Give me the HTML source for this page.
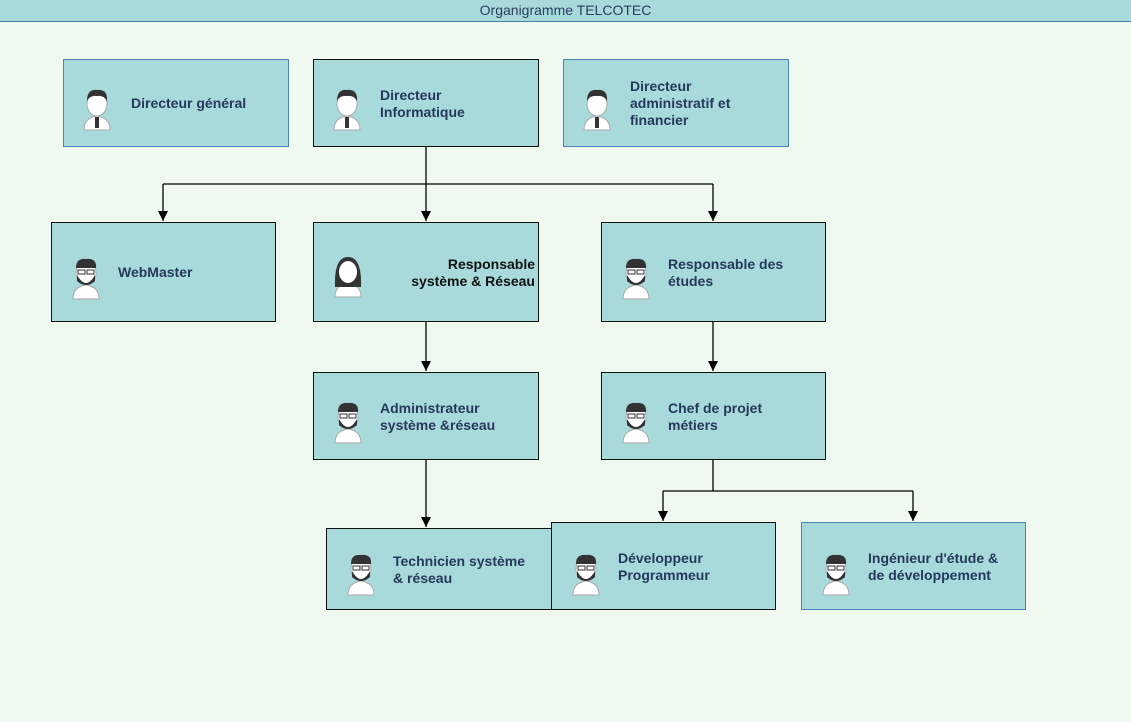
<!DOCTYPE html>
<html><head><meta charset="utf-8"><style>
body{margin:0;width:1131px;height:722px;background:#f0f9ef;position:relative;overflow:hidden;font-family:"Liberation Sans",sans-serif}
.hdr{position:absolute;left:0;top:0;width:1131px;height:21px;background:#a8d9db;border-bottom:1px solid #4a7fa8;text-align:center;font-size:14px;line-height:21px;color:#2b3e5c}
.b{position:absolute;background:#a8d9db;border:1px solid #111;box-sizing:border-box}
.blue{border-color:#4a86b3}
.t{position:absolute;font-size:14px;font-weight:bold;color:#26395a;line-height:17px}
</style></head><body>
<div class="hdr">Organigramme TELCOTEC</div>
<svg width="1131" height="722" style="position:absolute;left:0;top:0">
<defs><marker id="a" markerWidth="10" markerHeight="10" refX="10" refY="5" orient="auto" markerUnits="userSpaceOnUse"><path d="M0,0 L10,5 L0,10 z" fill="#000"/></marker>
<g id="p"><path d="M4,46 Q4,34 17,32 Q30,34 30,46 Z" fill="#fff" stroke="#aaa"/><rect x="15" y="33" width="4" height="11" fill="#333"/><ellipse cx="17" cy="20" rx="10" ry="12" fill="#fff" stroke="#aaa"/><path d="M7,17 Q7,5 17,6 Q28,5 27,17 Q24,11 17,12 Q10,11 7,17Z" fill="#333"/></g>
<g id="f"><path d="M4,46 Q4,34 17,32 Q30,34 30,46 Z" fill="#fff" stroke="#aaa"/><path d="M4,36 Q3,6 17,6 Q31,6 30,36 Z" fill="#333"/><ellipse cx="17" cy="21" rx="9" ry="11" fill="#fff"/></g>
<g id="m"><path d="M4,46 Q4,34 17,32 Q30,34 30,46 Z" fill="#fff" stroke="#aaa"/><ellipse cx="17" cy="20" rx="10" ry="12" fill="#fff" stroke="#aaa"/><path d="M7,15 Q7,5 17,6 Q28,5 27,15 Z" fill="#333"/><path d="M8,22 Q17,38 26,22 L26,28 Q17,36 8,28Z" fill="#333"/><rect x="9" y="17" width="7" height="4" fill="none" stroke="#333"/><rect x="18" y="17" width="7" height="4" fill="none" stroke="#333"/></g>
</defs>
<g stroke="#000" stroke-width="1.3" fill="none">
<path d="M426,147V184M163,184H713"/>
<path d="M163,184V221" marker-end="url(#a)"/><path d="M426,184V221" marker-end="url(#a)"/><path d="M713,184V221" marker-end="url(#a)"/>
<path d="M426,322V371" marker-end="url(#a)"/><path d="M713,322V371" marker-end="url(#a)"/>
<path d="M426,460V527" marker-end="url(#a)"/>
<path d="M713,460V491M663,491H913"/>
<path d="M663,491V521" marker-end="url(#a)"/><path d="M913,491V521" marker-end="url(#a)"/>
</g>
</svg>
<div class="b blue" style="left:63px;top:59px;width:226px;height:88px"></div>
<div class="b" style="left:313px;top:59px;width:226px;height:88px"></div>
<div class="b blue" style="left:563px;top:59px;width:226px;height:88px"></div>
<div class="b" style="left:51px;top:222px;width:225px;height:100px"></div>
<div class="b" style="left:313px;top:222px;width:226px;height:100px"></div>
<div class="b" style="left:601px;top:222px;width:225px;height:100px"></div>
<div class="b" style="left:313px;top:372px;width:226px;height:88px"></div>
<div class="b" style="left:601px;top:372px;width:225px;height:88px"></div>
<div class="b" style="left:326px;top:528px;width:226px;height:82px"></div>
<div class="b" style="left:551px;top:522px;width:225px;height:88px"></div>
<div class="b blue" style="left:801px;top:522px;width:225px;height:88px"></div>
<svg width="1131" height="722" style="position:absolute;left:0;top:0">
<use href="#p" x="80" y="84"/><use href="#p" x="330" y="84"/><use href="#p" x="580" y="84"/>
<use href="#m" x="69" y="253"/><use href="#f" x="331" y="251"/><use href="#m" x="619" y="253"/>
<use href="#m" x="331" y="397"/><use href="#m" x="619" y="397"/>
<use href="#m" x="344" y="549"/><use href="#m" x="569" y="549"/><use href="#m" x="819" y="549"/>
</svg>
<div class="t" style="left:131px;top:95px">Directeur général</div>
<div class="t" style="left:380px;top:87px">Directeur<br>Informatique</div>
<div class="t" style="left:630px;top:78px">Directeur<br>administratif et<br>financier</div>
<div class="t" style="left:118px;top:264px">WebMaster</div>
<div class="t" style="left:380px;top:256px;width:155px;text-align:right;color:#111">Responsable<br>système &amp; Réseau</div>
<div class="t" style="left:668px;top:256px">Responsable des<br>études</div>
<div class="t" style="left:380px;top:400px">Administrateur<br>système &amp;réseau</div>
<div class="t" style="left:668px;top:400px">Chef de projet<br>métiers</div>
<div class="t" style="left:393px;top:553px">Technicien système<br>&amp; réseau</div>
<div class="t" style="left:618px;top:550px">Développeur<br>Programmeur</div>
<div class="t" style="left:868px;top:550px">Ingénieur d'étude &amp;<br>de développement</div>
</body></html>
